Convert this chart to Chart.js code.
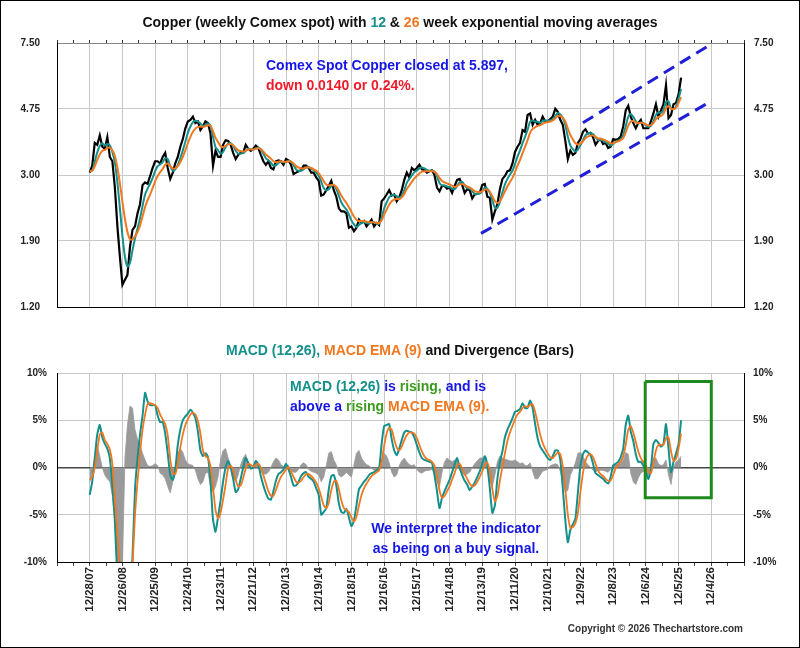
<!DOCTYPE html>
<html><head><meta charset="utf-8">
<script src="https://cdn.jsdelivr.net/npm/chart.js"></script>
<style>
html,body{margin:0;padding:0;background:#fff;}
#wrap{position:relative;width:800px;height:648px;overflow:hidden;font-family:"Liberation Sans",Arial,Helvetica,sans-serif;}
#frame{position:absolute;left:0;top:0;width:800px;height:648px;box-sizing:border-box;border:1px solid #000;pointer-events:none;z-index:5}
canvas{position:absolute;left:0}
#cTop{top:0}
#cBot{top:330px}
.t{position:absolute;white-space:nowrap;font-weight:bold;z-index:3}
.teal{color:#14908c}.orange{color:#f07820}.blue{color:#1515e6}.red{color:#ee1c2a}.green{color:#3a9a1e}
</style></head>
<body><div id="wrap">
<canvas id="cTop" width="800" height="330"></canvas>
<canvas id="cBot" width="800" height="318"></canvas>
<div class="t" style="left:0;width:800px;top:13px;text-align:center;font-size:14px;line-height:18px;color:#111">Copper (weekly Comex spot) with <span class="teal">12</span> &amp; <span class="orange">26</span> week exponential moving averages</div>
<div class="t" style="left:266px;top:55px;font-size:14px;line-height:20px"><span class="blue">Comex Spot Copper closed at 5.897,</span><br><span class="red">down 0.0140 or 0.24%.</span></div>
<div class="t" style="left:0;width:800px;top:341px;text-align:center;font-size:14px;line-height:18px;color:#111"><span class="teal">MACD (12,26),</span> <span class="orange">MACD EMA (9)</span> and Divergence (Bars)</div>
<div class="t" style="left:290px;top:377px;font-size:14px;line-height:19.5px"><span class="teal">MACD (12,26)</span> <span class="blue">is</span> <span class="green">rising,</span> <span class="blue">and is</span><br><span class="blue">above a</span> <span class="green">rising</span> <span class="orange">MACD EMA (9).</span></div>
<div class="t blue" style="left:356px;width:200px;top:519px;text-align:center;font-size:14px;line-height:19.5px">We interpret the indicator<br>as being on a buy signal.</div>
<div class="t" style="left:0;width:743px;top:623px;text-align:right;font-size:10px;line-height:12px;color:#333">Copyright © 2026 Thechartstore.com</div>
<div id="frame"></div>
</div>
<script>
// ---- x axis: weeks since 12/28/07, one sample every 4 weeks ----
var FIRST_WEEK = 0;
var WEEK_STEP = 4;
var X_MIN = -52, X_MAX = 1040;
var MINOR_TICK_WEEKS = 26;
var tickLabels = ['12/28/07','12/26/08','12/25/09','12/24/10','12/23/11','12/21/12','12/20/13','12/19/14','12/18/15','12/16/16','12/15/17','12/14/18','12/13/19','12/11/20','12/10/21','12/9/22','12/8/23','12/6/24','12/5/25','12/4/26'];
var tickWeeks = [0,52,104,156,208,260,312,364,416,468,520,572,624,676,728,780,832,884,936,988];
var priceTicks = [1.20, 1.90, 3.00, 4.75, 7.50];
var macdTicks = [-10, -5, 0, 5, 10];

// ---- weekly Comex copper ($/lb), sampled every 4 weeks ----
var price = [
 3.05,3.20,3.75,3.70,3.95,3.65,3.60,3.90,3.40,3.30,2.75,2.10,1.70,
 1.40,1.45,1.50,1.82,2.05,2.10,2.30,2.45,2.80,2.85,2.82,2.98,3.15,
 3.30,3.30,3.25,3.40,3.50,3.15,2.92,3.05,3.25,3.40,3.65,3.85,4.15,
 4.35,4.40,4.50,4.30,4.35,4.10,4.20,4.35,4.30,4.00,3.20,3.55,3.40,
 3.40,3.70,3.82,3.80,3.70,3.50,3.35,3.45,3.50,3.50,3.70,3.60,3.55,
 3.60,3.68,3.62,3.45,3.30,3.22,3.30,3.15,3.12,3.30,3.32,3.30,3.22,
 3.35,3.32,3.22,3.02,3.05,3.08,3.10,3.20,3.20,3.15,3.05,3.05,2.95,
 2.88,2.60,2.62,2.70,2.78,2.88,2.70,2.58,2.38,2.33,2.33,2.30,2.08,
 2.10,2.03,2.08,2.20,2.15,2.18,2.10,2.15,2.20,2.10,2.15,2.12,2.50,
 2.55,2.62,2.70,2.60,2.62,2.50,2.57,2.70,2.90,3.05,2.95,3.15,3.10,
 3.15,3.22,3.12,3.10,3.05,3.08,3.10,3.00,2.75,2.68,2.78,2.78,2.73,
 2.75,2.65,2.78,2.90,2.92,2.80,2.65,2.72,2.70,2.55,2.62,2.63,2.65,
 2.80,2.82,2.58,2.56,2.20,2.33,2.45,2.72,2.92,2.98,3.08,3.10,3.25,
 3.52,3.65,3.75,4.10,4.05,4.55,4.60,4.25,4.40,4.25,4.30,4.50,4.35,
 4.35,4.42,4.50,4.75,4.65,4.40,4.25,3.80,3.35,3.55,3.45,3.50,3.75,
 3.85,4.05,4.12,4.00,4.02,3.90,3.70,3.80,3.85,3.72,3.75,3.62,3.65,
 3.85,3.83,3.85,3.92,4.20,4.70,4.85,4.50,4.30,4.15,4.30,4.40,4.15,
 4.15,4.15,4.35,4.60,4.90,4.50,4.70,4.90,5.60,4.45,4.55,4.90,4.95,
 5.25,5.90
];
var ema12 = [
 3.08,3.10,3.29,3.51,3.67,3.74,3.68,3.72,3.69,3.52,3.27,2.85,2.38,
 1.97,1.70,1.59,1.63,1.78,1.93,2.07,2.22,2.42,2.62,2.73,2.82,2.94,
 3.08,3.19,3.23,3.28,3.37,3.35,3.19,3.09,3.12,3.22,3.37,3.56,3.78,
 4.02,4.20,4.33,4.37,4.35,4.29,4.22,4.25,4.29,4.22,3.91,3.64,3.56,
 3.48,3.52,3.64,3.73,3.74,3.67,3.55,3.48,3.48,3.49,3.55,3.60,3.59,
 3.58,3.61,3.63,3.58,3.48,3.37,3.32,3.27,3.20,3.21,3.26,3.29,3.28,
 3.28,3.31,3.29,3.21,3.12,3.09,3.09,3.12,3.16,3.17,3.14,3.10,3.05,
 2.98,2.86,2.74,2.70,2.72,2.78,2.79,2.72,2.60,2.48,2.41,2.36,2.28,
 2.19,2.13,2.09,2.12,2.15,2.16,2.15,2.14,2.16,2.16,2.14,2.14,2.23,
 2.38,2.48,2.57,2.61,2.61,2.59,2.56,2.60,2.70,2.84,2.92,2.99,3.06,
 3.09,3.14,3.16,3.14,3.11,3.09,3.09,3.07,2.97,2.84,2.79,2.79,2.77,
 2.76,2.73,2.72,2.78,2.85,2.86,2.79,2.74,2.73,2.68,2.63,2.63,2.64,
 2.68,2.75,2.73,2.65,2.52,2.39,2.39,2.49,2.66,2.81,2.92,3.01,3.09,
 3.24,3.41,3.56,3.74,3.91,4.11,4.34,4.38,4.35,4.34,4.31,4.36,4.39,
 4.37,4.38,4.42,4.52,4.61,4.57,4.45,4.24,3.91,3.68,3.59,3.53,3.58,
 3.69,3.82,3.95,4.01,4.01,3.99,3.90,3.83,3.83,3.81,3.77,3.73,3.68,
 3.72,3.78,3.81,3.85,3.96,4.21,4.49,4.58,4.49,4.36,4.29,4.32,4.30,
 4.23,4.19,4.22,4.35,4.55,4.63,4.62,4.71,4.98,5.00,4.75,4.74,4.83,
 5.10,5.45
];
var ema26 = [
 3.08,3.09,3.19,3.33,3.46,3.55,3.57,3.62,3.63,3.56,3.42,3.16,2.83,
 2.49,2.21,2.02,1.92,1.92,1.96,2.02,2.11,2.25,2.40,2.52,2.62,2.74,
 2.87,2.98,3.06,3.13,3.22,3.25,3.19,3.14,3.14,3.19,3.28,3.40,3.56,
 3.74,3.91,4.05,4.14,4.19,4.20,4.19,4.21,4.24,4.22,4.06,3.88,3.77,
 3.67,3.64,3.67,3.71,3.72,3.69,3.62,3.56,3.54,3.53,3.55,3.58,3.58,
 3.58,3.60,3.61,3.59,3.53,3.46,3.41,3.36,3.30,3.28,3.29,3.30,3.29,
 3.29,3.30,3.29,3.25,3.19,3.16,3.14,3.14,3.16,3.16,3.15,3.12,3.09,
 3.04,2.96,2.87,2.81,2.79,2.80,2.80,2.76,2.69,2.60,2.53,2.47,2.40,
 2.32,2.25,2.20,2.18,2.18,2.18,2.17,2.16,2.16,2.16,2.15,2.15,2.19,
 2.28,2.36,2.44,2.50,2.53,2.54,2.54,2.57,2.63,2.72,2.79,2.86,2.93,
 2.98,3.03,3.07,3.08,3.08,3.08,3.08,3.07,3.02,2.94,2.88,2.85,2.83,
 2.81,2.78,2.76,2.78,2.81,2.82,2.80,2.77,2.75,2.72,2.68,2.67,2.66,
 2.68,2.71,2.71,2.67,2.59,2.50,2.47,2.50,2.58,2.68,2.77,2.86,2.94,
 3.06,3.20,3.33,3.49,3.65,3.82,4.02,4.13,4.18,4.22,4.24,4.28,4.32,
 4.33,4.35,4.38,4.45,4.52,4.52,4.47,4.35,4.14,3.96,3.84,3.74,3.71,
 3.73,3.79,3.87,3.92,3.94,3.95,3.91,3.87,3.86,3.84,3.81,3.78,3.74,
 3.74,3.77,3.79,3.82,3.88,4.03,4.23,4.35,4.36,4.32,4.30,4.31,4.30,
 4.26,4.23,4.24,4.30,4.42,4.49,4.52,4.59,4.77,4.84,4.75,4.74,4.79,
 4.95,5.15
];
// ---- MACD (12,26) in %, its 9-week EMA, and divergence bars ----
var macd = [
 -2.9,-1.5,1.0,3.5,4.5,3.2,2.5,2.0,1.0,-2.0,-5.7,-12,-16,
 -18,-18,-16,-13,-9.5,-2.3,1.0,3.5,5.5,7.9,7.0,6.6,6.6,
 6.6,5.5,4.8,4.8,3.6,1.5,-0.8,-1.3,-0.2,2.4,4.0,5.0,5.4,
 5.7,6.1,5.8,5.2,3.8,1.8,1.2,1.5,1.1,-1.5,-5.5,-6.8,-5.2,
 -3.5,-1.5,0.0,0.7,0.0,-1.2,-2.6,-2.3,-1.2,0.0,1.0,0.5,-0.1,
 0.0,0.7,0.3,-0.9,-1.9,-2.7,-3.3,-3.4,-2.5,-1.4,-0.7,-0.5,-0.2,
 0.4,-0.2,-1.0,-1.9,-1.9,-1.5,-0.9,-0.6,-0.5,-1.0,-1.2,-1.5,-2.2,
 -2.9,-5.0,-4.7,-4.3,-2.3,-0.9,-0.8,-1.9,-3.8,-4.7,-4.8,-4.4,-5.3,
 -6.2,-5.6,-4.0,-2.3,-1.9,-1.5,-1.2,-0.8,-0.6,-0.5,-0.3,-0.1,2.5,
 4.4,4.5,4.6,3.0,1.8,1.3,2.0,2.9,3.7,3.9,3.8,3.7,3.2,
 2.4,1.6,1.0,0.8,0.7,0.6,0.5,-0.8,-2.5,-4.3,-3.2,-2.5,-1.9,
 -1.3,-0.5,0.3,1.0,0.0,-0.8,-1.4,-1.8,-2.4,-2.0,-1.6,-1.0,-0.4,
 0.4,1.2,0.2,-2.2,-4.8,-4.0,-1.2,0.6,1.7,3.2,4.0,4.6,5.2,
 5.9,6.0,6.2,6.8,6.3,6.3,7.1,6.3,4.6,3.1,2.2,1.8,1.4,
 1.0,0.8,1.2,1.8,1.8,0.8,-2.2,-5.6,-7.9,-6.6,-6.0,-5.4,-2.6,
 0.2,1.4,1.8,1.6,1.3,0.4,-0.6,-0.8,-1.0,-1.2,-1.5,-1.7,-1.0,
 0.2,0.4,0.6,1.1,2.0,4.5,5.5,3.8,2.8,1.4,0.6,0.6,0.2,
 -0.5,-1.2,-0.1,2.5,2.9,2.6,2.2,2.5,4.6,2.0,-0.5,0.6,1.5,
 2.5,5.0
];
var macdEma = [
 -1.3,-1.0,0.0,1.8,3.5,3.7,2.9,2.5,1.9,0.4,-3.5,-7.0,-11.2,
 -14.7,-16.7,-16.9,-15.5,-10.5,-5.0,-1.5,1.5,4.0,5.6,6.7,6.8,6.7,
 6.6,6.3,5.6,5.1,4.6,3.4,0.9,-0.6,-0.7,0.4,2.1,3.5,4.5,
 5.1,5.6,5.8,5.6,4.9,3.6,1.8,1.2,1.0,0.1,-2.1,-4.5,-5.4,
 -4.8,-3.4,-1.8,-0.1,0.2,-0.3,-1.3,-2.0,-1.9,-1.1,-0.1,0.4,0.3,
 0.1,0.3,0.4,0.0,-0.8,-1.7,-2.5,-3.0,-3.0,-2.4,-1.6,-1.0,-0.6,
 -0.2,0.0,-0.4,-1.0,-1.5,-1.6,-1.4,-1.0,-0.7,-0.7,-0.9,-1.2,-1.6,
 -2.2,-3.1,-4.0,-4.3,-3.7,-2.4,-1.5,-1.4,-2.3,-3.5,-4.3,-4.5,-4.7,
 -5.3,-5.7,-5.2,-4.0,-2.9,-2.2,-1.7,-1.3,-0.9,-0.7,-0.5,-0.3,0.6,
 2.3,3.6,4.2,4.0,3.0,2.1,1.8,2.2,2.9,3.4,3.7,3.7,3.6,
 3.1,2.4,1.7,1.2,0.9,0.8,0.6,0.2,-0.9,-2.4,-3.2,-3.0,-2.5,
 -2.0,-1.3,-0.6,0.2,0.4,-0.1,-0.7,-1.2,-1.7,-2.0,-1.9,-1.5,-1.0,
 -0.4,0.3,0.5,-0.4,-2.3,-3.6,-3.0,-1.4,0.1,1.5,2.8,3.7,4.4,
 5.1,5.6,5.9,6.3,6.5,6.4,6.6,6.7,5.9,4.7,3.5,2.6,2.0,
 1.5,1.1,1.0,1.3,1.6,1.4,0.1,-2.3,-5.0,-6.4,-6.3,-5.9,-4.8,
 -2.6,-0.6,0.7,1.3,1.4,1.1,0.4,-0.3,-0.7,-0.9,-1.2,-1.4,-1.4,
 -0.8,-0.1,0.3,0.6,1.2,2.4,4.0,4.4,3.7,2.7,1.7,1.0,0.6,
 0.2,-0.4,-0.6,0.5,1.8,2.4,2.4,2.4,3.1,3.2,1.7,0.7,0.9,
 2.0,3.6
];
var divergence = [
 -1.6,-0.5,1.0,2.4,1.2,0.0,-0.8,-1.2,-1.5,-3.0,-5.7,-10.5,-12,
 -10.5,1.0,4.5,6.5,6.3,4.0,3.0,2.3,1.5,0.8,0.2,0.1,0.2,
 0.4,0.2,-0.6,-0.8,-1.2,-2.0,-2.7,-1.5,-0.5,1.5,2.0,1.6,0.8,
 0.4,0.3,0.2,-0.3,-1.2,-1.8,-1.5,-0.6,-0.5,-2.0,-2.6,-2.0,-1.0,
 0.8,1.8,2.0,1.0,0.2,-1.0,-1.5,-0.8,0.3,1.0,1.4,0.4,0.0,
 0.2,0.8,0.3,-0.4,-0.7,-0.7,-0.5,0.0,0.6,1.0,0.8,0.3,0.1,
 0.3,0.2,-0.3,-0.5,-0.5,-0.2,0.3,0.5,0.3,-0.2,-0.4,-0.5,-0.6,
 -0.8,-1.5,-1.0,0.2,1.5,1.7,0.8,0.3,-0.8,-1.0,-0.8,-0.5,-0.8,
 -1.0,0.3,1.5,1.8,1.0,0.6,0.3,0.2,-0.1,-0.3,-0.3,0.0,0.8,
 1.5,1.2,0.5,-0.5,-1.0,-0.8,0.2,0.7,1.0,0.6,0.3,0.2,0.3,
 -0.2,-0.5,-0.6,-0.4,-0.3,-0.3,-0.2,-0.6,-1.5,-2.0,-0.5,0.6,1.0,
 0.8,0.6,0.8,0.6,-0.2,-0.6,-0.8,-0.7,-0.5,0.0,0.4,0.7,1.0,
 1.0,0.8,-0.3,-1.5,-2.0,-0.8,0.6,1.2,1.0,0.9,0.8,0.7,0.7,
 0.8,0.6,0.4,0.5,0.2,0.2,0.5,-0.4,-1.2,-1.2,-0.8,-0.4,-0.3,
 -0.2,0.2,0.3,0.4,0.3,-0.4,-1.5,-2.6,-2.4,-0.8,-0.2,0.5,1.5,
 1.6,1.2,0.6,0.3,0.0,-0.3,-0.5,-0.3,-0.3,-0.3,-0.4,-0.5,-0.2,
 0.3,0.4,0.3,0.4,0.8,1.6,1.4,-0.6,-1.5,-1.8,-1.1,-0.6,-0.4,
 -0.6,-0.8,0.3,1.0,1.0,0.4,0.2,0.3,0.8,-0.8,-1.8,0.0,0.6,
 0.8,1.2
];
// ---- annotations (in data units: week, value) ----
var channelLowerWeeks = [622, 988], channelLowerValues = [2.00, 5.01];
var channelUpperWeeks = [784, 988], channelUpperValues = [4.31, 7.45];
var boxWeeks = [883, 988], boxRange = [-3.2, 9.1];

// ---- helpers ----
function toPoints(arr) {
  return arr.map(function (y, i) { return { x: FIRST_WEEK + i * WEEK_STEP, y: y }; });
}
function pairPoints(xs, ys) {
  return xs.map(function (x, i) { return { x: x, y: ys[i] }; });
}
var boxPoints = [
  { x: boxWeeks[0], y: boxRange[1] }, { x: boxWeeks[1], y: boxRange[1] },
  { x: boxWeeks[1], y: boxRange[0] }, { x: boxWeeks[0], y: boxRange[0] },
  { x: boxWeeks[0], y: boxRange[1] }
];
function fixedTicks(list) {
  return function (s) { s.ticks = list.map(function (v) { return { value: v }; }); };
}
function minorTicks(s) {
  var t = [];
  for (var v = X_MIN; v <= X_MAX; v += MINOR_TICK_WEEKS) t.push({ value: v });
  s.ticks = t;
}
function isLabelWeek(v) { return tickWeeks.indexOf(v) >= 0; }

Chart.defaults.font.family = '"Liberation Sans", Arial, Helvetica, sans-serif';
Chart.defaults.color = '#222';
var tickFont = { size: 10, weight: 'bold' };
var GRID = '#c8c8c8';

new Chart(document.getElementById('cTop'), {
  type: 'line',
  data: {
    datasets: [
      { label: 'Channel lower', data: pairPoints(channelLowerWeeks, channelLowerValues), borderColor: '#1f1fd8', borderWidth: 3, borderDash: [12, 7], pointRadius: 0, order: 0 },
      { label: 'Channel upper', data: pairPoints(channelUpperWeeks, channelUpperValues), borderColor: '#1f1fd8', borderWidth: 3, borderDash: [12, 7], pointRadius: 0, order: 0 },
      { label: '26 wk EMA', data: toPoints(ema26), borderColor: '#f07820', borderWidth: 2, pointRadius: 0, tension: 0.3, order: 1 },
      { label: '12 wk EMA', data: toPoints(ema12), borderColor: '#14908c', borderWidth: 2, pointRadius: 0, tension: 0.3, order: 2 },
      { label: 'Copper', data: toPoints(price), borderColor: '#000', borderWidth: 2.2, pointRadius: 0, tension: 0, order: 3 }
    ]
  },
  options: {
    responsive: false, devicePixelRatio: 1, animation: false,
    layout: { padding: { top: 40, left: 0, right: 0, bottom: 0 } },
    plugins: { legend: { display: false }, tooltip: { enabled: false } },
    scales: {
      x: {
        type: 'linear', min: X_MIN, max: X_MAX, offset: false,
        afterBuildTicks: fixedTicks(tickWeeks),
        ticks: { display: false },
        grid: { color: GRID, drawTicks: false },
        border: { color: '#000' },
        afterFit: function (s) { s.height = 17; }
      },
      xTop: {
        type: 'linear', position: 'top', min: X_MIN, max: X_MAX, offset: false,
        afterBuildTicks: minorTicks,
        ticks: { display: false },
        grid: { drawOnChartArea: false, drawTicks: true, tickLength: 3, tickColor: '#333' },
        border: { color: '#888' },
        afterFit: function (s) { s.height = 3; }
      },
      y: {
        type: 'logarithmic', position: 'left', min: priceTicks[0], max: priceTicks[priceTicks.length - 1],
        afterBuildTicks: fixedTicks(priceTicks),
        ticks: { callback: function (v) { return Number(v).toFixed(2); }, font: tickFont, color: '#222', padding: 17 },
        grid: { color: GRID, drawTicks: false },
        border: { color: '#000' },
        afterFit: function (s) { s.width = 57; }
      },
      y2: {
        type: 'logarithmic', position: 'right', min: priceTicks[0], max: priceTicks[priceTicks.length - 1],
        afterBuildTicks: fixedTicks(priceTicks),
        ticks: { callback: function (v) { return Number(v).toFixed(2); }, font: tickFont, color: '#222', padding: 10 },
        grid: { display: false, drawTicks: false },
        border: { color: '#000' },
        afterFit: function (s) { s.width = 56; }
      }
    }
  }
});

new Chart(document.getElementById('cBot'), {
  type: 'line',
  data: {
    datasets: [
      { label: 'Box', data: boxPoints, borderColor: '#1e8a1e', borderWidth: 3, pointRadius: 0, tension: 0, order: 0, clip: 0 },
      { label: 'MACD EMA (9)', data: toPoints(macdEma), borderColor: '#f07820', borderWidth: 1.8, pointRadius: 0, tension: 0.2, order: 1, clip: 0 },
      { label: 'MACD (12,26)', data: toPoints(macd), borderColor: '#14908c', borderWidth: 2, pointRadius: 0, tension: 0.2, order: 2, clip: 0 },
      { label: 'Divergence', data: toPoints(divergence), borderColor: '#9a9a9a', borderWidth: 0.8, backgroundColor: '#9a9a9a', fill: 'origin', pointRadius: 0, tension: 0, order: 3, clip: 0 }
    ]
  },
  options: {
    responsive: false, devicePixelRatio: 1, animation: false,
    layout: { padding: { top: 43, left: 0, right: 0, bottom: 0 } },
    plugins: { legend: { display: false }, tooltip: { enabled: false }, filler: { propagate: false } },
    scales: {
      x: {
        type: 'linear', min: X_MIN, max: X_MAX, offset: false,
        afterBuildTicks: minorTicks,
        ticks: {
          autoSkip: false, minRotation: 90, maxRotation: 90, padding: 1,
          font: { size: 11.5, weight: 'bold' }, color: '#222',
          callback: function (v) { var k = tickWeeks.indexOf(v); return k >= 0 ? tickLabels[k] : ''; }
        },
        grid: {
          color: function (c) { return (c.tick && isLabelWeek(c.tick.value)) ? GRID : 'rgba(0,0,0,0)'; },
          tickColor: '#444', tickLength: 4, drawTicks: true
        },
        border: { color: '#000' },
        afterFit: function (s) { s.height = 86; }
      },
      y: {
        type: 'linear', position: 'left', min: macdTicks[0], max: macdTicks[macdTicks.length - 1],
        afterBuildTicks: fixedTicks(macdTicks),
        ticks: { callback: function (v) { return v + '%'; }, font: tickFont, color: '#222', padding: 10 },
        grid: {
          color: function (c) { return (c.tick && c.tick.value === 0) ? '#444' : GRID; },
          lineWidth: function (c) { return (c.tick && c.tick.value === 0) ? 1.5 : 1; },
          drawTicks: false
        },
        border: { color: '#000' },
        afterFit: function (s) { s.width = 57; }
      },
      y2: {
        type: 'linear', position: 'right', min: macdTicks[0], max: macdTicks[macdTicks.length - 1],
        afterBuildTicks: fixedTicks(macdTicks),
        ticks: { callback: function (v) { return v + '%'; }, font: tickFont, color: '#222', padding: 9 },
        grid: { display: false, drawTicks: false },
        border: { color: '#000' },
        afterFit: function (s) { s.width = 56; }
      }
    }
  }
});
</script>
</body></html>
